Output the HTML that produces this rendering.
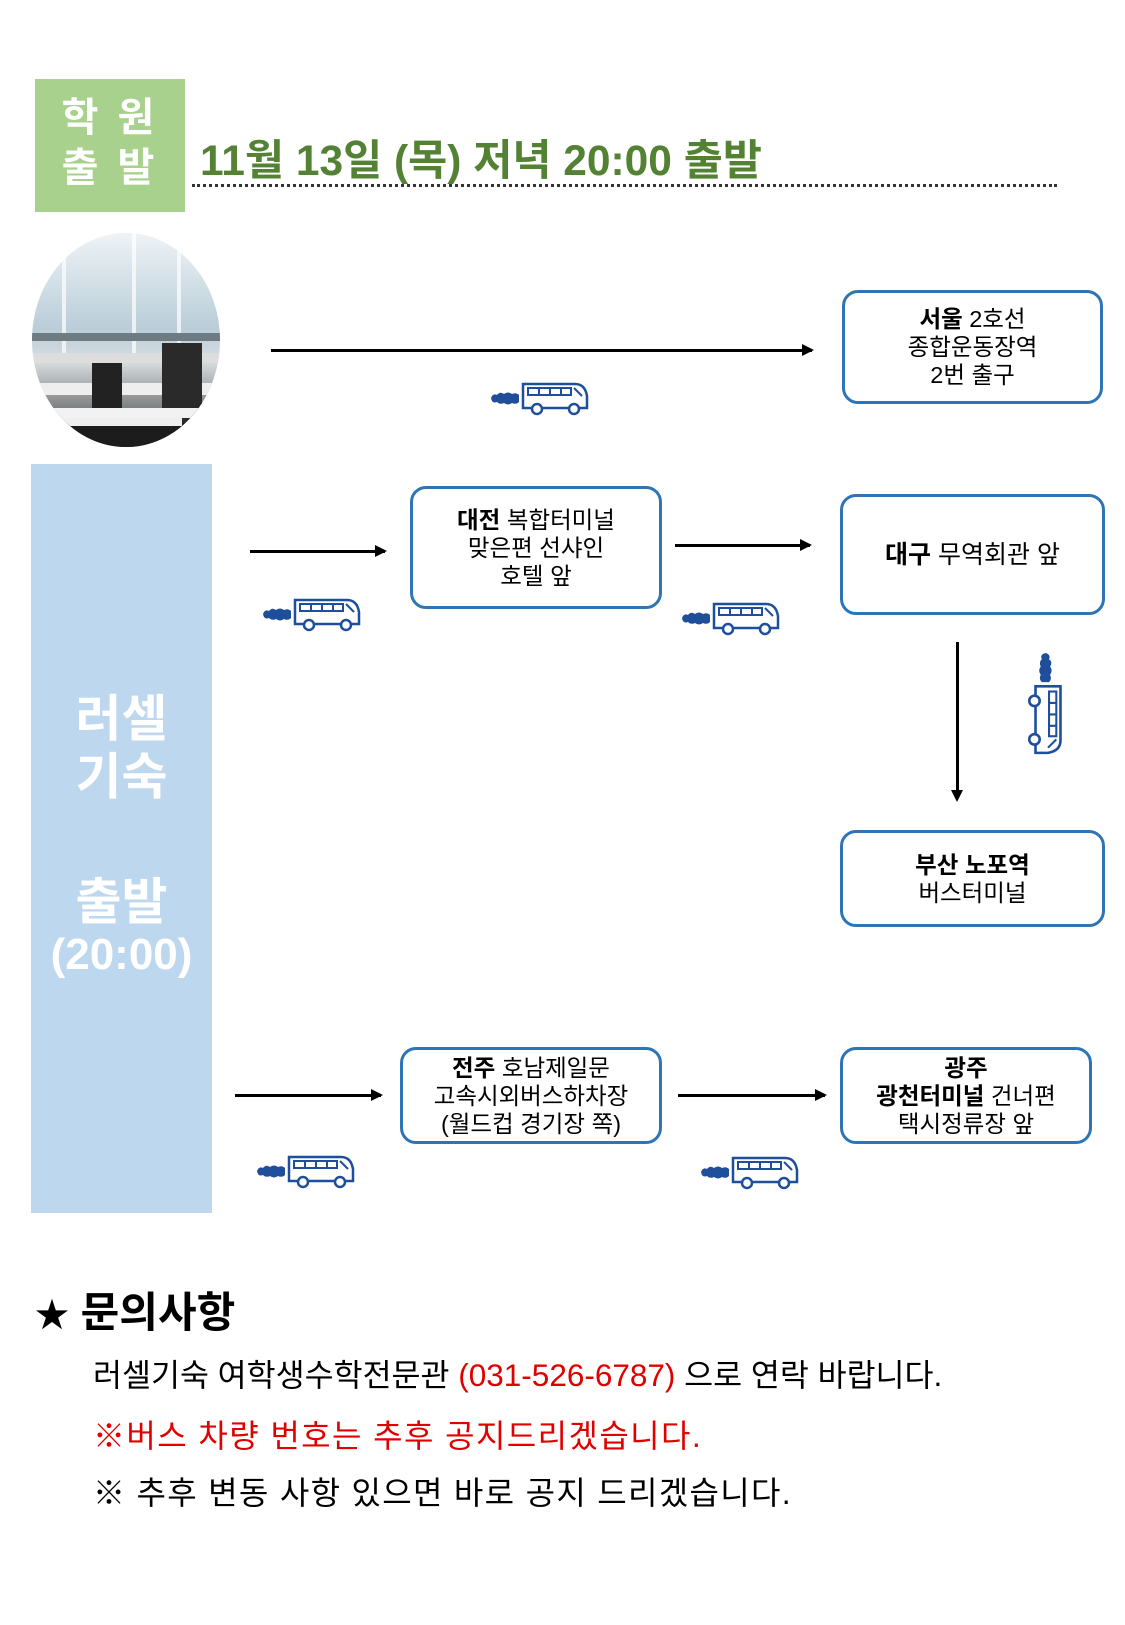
<!DOCTYPE html>
<html><head><meta charset="utf-8"><style>
*{margin:0;padding:0;box-sizing:border-box}
body{width:1125px;height:1625px;background:#fff;position:relative;overflow:hidden;font-family:"Liberation Sans","Noto Sans CJK KR",sans-serif}
.a{position:absolute}
.box{position:absolute;border:3.5px solid #2e75b6;border-radius:16px;background:#fff;display:flex;flex-direction:column;align-items:center;justify-content:center;text-align:center;font-size:23.5px;line-height:28px;color:#000}
.box b{font-weight:bold}
.line{position:absolute;height:3px;background:#000}
.line:after{content:"";position:absolute;right:-2px;top:-5px;border-left:12px solid #000;border-top:6.5px solid transparent;border-bottom:6.5px solid transparent}
.side{color:#fff;font-weight:bold;text-align:center;position:absolute;left:31px;width:181px}
</style></head><body>
<svg width="0" height="0" style="position:absolute"><defs>
<g id="bus">
<path d="M1 18 q2-5 6-3 q3-4 7-1 q4-3 8 0 q4-2 7 1 l0 7 q-3 3-7 1 q-4 3-8 0 q-4 2-7-1 q-5 2-6-4z" fill="#1f4e9a"/>
<path d="M33 4 h52 q10 0 12 12 v12 h-64z" fill="#fff" stroke="#1f4e9a" stroke-width="2.5"/>
<rect x="38" y="8" width="43" height="7" fill="none" stroke="#1f4e9a" stroke-width="2"/>
<path d="M49 8v7M60 8v7M71 8v7M84 8l8 8" stroke="#1f4e9a" stroke-width="2"/>
<circle cx="47" cy="29" r="5" fill="#fff" stroke="#1f4e9a" stroke-width="2.5"/>
<circle cx="84" cy="29" r="5" fill="#fff" stroke="#1f4e9a" stroke-width="2.5"/>
</g></defs></svg>

<div class="a" style="left:35px;top:79px;width:150px;height:133px;background:#a9d18e;color:#fff;font-weight:bold;font-size:40px;line-height:50px;text-align:center;padding-top:14px;letter-spacing:4px">학 원<br>출 발</div>
<div class="a" style="left:200px;top:127px;font-size:42.5px;font-weight:bold;color:#548235;white-space:nowrap">11월 13일 (목) 저녁 20:00 출발</div>
<div class="a" style="left:192px;top:184px;width:865px;border-top:3px dotted #333"></div>

<svg class="a" style="left:32px;top:233px" width="188" height="214">
<defs><clipPath id="c"><ellipse cx="94" cy="107" rx="94" ry="107"/></clipPath>
<linearGradient id="g" x1="0" y1="0" x2="0" y2="1"><stop offset="0" stop-color="#eef3f6"/><stop offset=".45" stop-color="#b9cdd8"/><stop offset=".6" stop-color="#d8dde0"/><stop offset="1" stop-color="#333"/></linearGradient></defs>
<g clip-path="url(#c)">
<rect width="188" height="214" fill="url(#g)"/>
<rect x="30" y="0" width="4" height="130" fill="#fff" opacity=".7"/><rect x="100" y="0" width="4" height="130" fill="#fff" opacity=".7"/><rect x="145" y="0" width="4" height="130" fill="#fff" opacity=".7"/>
<rect x="0" y="100" width="188" height="8" fill="#6f7b82"/>
<rect x="0" y="120" width="188" height="10" fill="#ddd"/>
<rect x="0" y="150" width="188" height="12" fill="#eee"/>
<rect x="60" y="130" width="30" height="60" fill="#222"/><rect x="130" y="110" width="40" height="90" fill="#2a2a2a"/>
<rect x="0" y="175" width="188" height="10" fill="#f2f2f2"/>
<rect x="0" y="190" width="188" height="30" fill="#1c1c1c"/>
<rect x="30" y="185" width="120" height="8" fill="#eee"/>
</g></svg>

<div class="line" style="left:271px;top:349px;width:541px"></div>
<svg class="a" style="left:490px;top:380px" width="100" height="36" viewBox="0 0 100 36"><use href="#bus"/></svg>
<div class="box" style="left:842px;top:290px;width:261px;height:114px"><div><b>서울</b> 2호선</div><div>종합운동장역</div><div>2번 출구</div></div>

<div class="a" style="left:31px;top:464px;width:181px;height:749px;background:#bdd7ee"></div>
<div class="side" style="top:690px;font-size:50px;line-height:58px">러셀<br>기숙</div>
<div class="side" style="top:874px;font-size:50px;line-height:56px">출발</div>
<div class="side" style="top:928px;font-size:44px;line-height:54px">(20:00)</div>

<div class="line" style="left:250px;top:550px;width:135px"></div>
<svg class="a" style="left:262px;top:596px" width="100" height="36" viewBox="0 0 100 36"><use href="#bus"/></svg>
<div class="box" style="left:410px;top:486px;width:252px;height:123px"><div><b>대전</b> 복합터미널</div><div>맞은편 선샤인</div><div>호텔 앞</div></div>
<div class="line" style="left:675px;top:544px;width:135px"></div>
<svg class="a" style="left:681px;top:600px" width="100" height="36" viewBox="0 0 100 36"><use href="#bus"/></svg>
<div class="box" style="left:840px;top:494px;width:265px;height:121px;font-size:25px"><div><b>대구</b> 무역회관 앞</div></div>

<div class="a" style="left:956px;top:642px;width:3px;height:150px;background:#000"></div>
<div class="a" style="left:951px;top:790px;border-top:12px solid #000;border-left:6.5px solid transparent;border-right:6.5px solid transparent"></div>
<svg class="a" style="left:1018px;top:652px" width="60" height="104" viewBox="0 0 36 100" ><g transform="translate(34,0) rotate(90)"><use href="#bus"/></g></svg>

<div class="box" style="left:840px;top:830px;width:265px;height:97px"><div><b>부산 노포역</b></div><div>버스터미널</div></div>

<div class="line" style="left:235px;top:1094px;width:146px"></div>
<svg class="a" style="left:256px;top:1153px" width="100" height="36" viewBox="0 0 100 36"><use href="#bus"/></svg>
<div class="box" style="left:400px;top:1047px;width:262px;height:97px"><div><b>전주</b> 호남제일문</div><div>고속시외버스하차장</div><div>(월드컵 경기장 쪽)</div></div>
<div class="line" style="left:678px;top:1094px;width:147px"></div>
<svg class="a" style="left:700px;top:1154px" width="100" height="36" viewBox="0 0 100 36"><use href="#bus"/></svg>
<div class="box" style="left:840px;top:1047px;width:252px;height:97px"><div><b>광주</b></div><div><b>광천터미널</b> 건너편</div><div>택시정류장 앞</div></div>

<div class="a" style="left:35px;top:1279px;font-size:42px;font-weight:bold;white-space:nowrap;color:#000"><span style="font-size:34px">★</span> 문의사항</div>
<div class="a" style="left:93px;top:1350px;font-size:31.5px;white-space:nowrap;color:#000">러셀기숙 여학생수학전문관 <span style="color:#e00000">(031-526-6787)</span> 으로 연락 바랍니다.</div>
<div class="a" style="left:93px;top:1411px;font-size:32px;letter-spacing:1.4px;white-space:nowrap;color:#e00000">※버스 차량 번호는 추후 공지드리겠습니다.</div>
<div class="a" style="left:93px;top:1468px;font-size:32px;letter-spacing:1.3px;white-space:nowrap;color:#000">※ 추후 변동 사항 있으면 바로 공지 드리겠습니다.</div>
</body></html>
